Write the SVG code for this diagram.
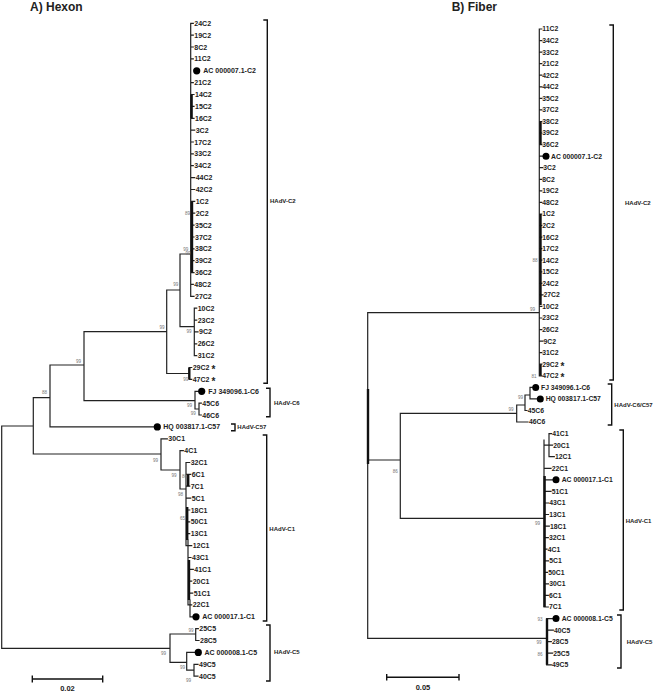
<svg xmlns="http://www.w3.org/2000/svg" width="658" height="693" viewBox="0 0 658 693">
<style>
.br{fill:none;stroke:#222;stroke-width:1.2;stroke-linecap:square}
.thk{fill:none;stroke:#111;stroke-width:2.4}
.bk{fill:none;stroke:#111;stroke-width:1.4}
.t{font-family:"Liberation Sans",Arial,sans-serif;font-weight:bold;font-size:7px;fill:#222}
.f{font-family:"Liberation Sans",Arial,sans-serif;font-weight:bold;font-size:6.8px;fill:#222}
.bs{font-family:"Liberation Sans",Arial,sans-serif;font-size:4.6px;fill:#777}
.cl{font-family:"Liberation Sans",Arial,sans-serif;font-weight:bold;font-size:6px;fill:#222}
.ti{font-family:"Liberation Sans",Arial,sans-serif;font-weight:bold;font-size:12px;fill:#222}
.sc{font-family:"Liberation Sans",Arial,sans-serif;font-weight:bold;font-size:7.5px;fill:#222}
.ast{font-size:10px}
</style>
<rect width="658" height="693" fill="#fff"/>
<text class="ti" x="30" y="11">A) Hexon</text>
<text class="ti" x="451.7" y="11">B) Fiber</text>

<g id="connectors">
<!-- Hexon tree -->
<path class="br" d="M1.7,426 V648.3 M1.7,426 H33.3 M33.3,397.7 V454 M33.3,397.7 H50 M33.3,454 H161
M50,365 V426.9 M50,365 H84 M50,426.9 H154
M84,331.7 V400.7 M84,331.7 H166.7 M84,400.7 H195
M166.7,290 V373.5 M166.7,290 H180 M166.7,373.5 H189.3
M180,254 V326.7 M180,254 H190.7 M180,326.7 H194.3
M190.7,23.3 V296.3
M190.7,23.3 H193.3 M190.7,35.2 H193.3 M190.7,47 H193.3 M190.7,58.9 H193.3 M190.7,82.6 H193.3 M190.7,94.5 H194 M190.7,106.4 H194 M190.7,118.3 H194 M190.7,130.1 H194.7 M190.7,142 H193.3 M190.7,153.9 H193.3 M190.7,165.7 H193.3 M190.7,177.6 H194.7 M190.7,189.5 H194.7 M190.7,201.4 H194.7 M190.7,213.2 H194.7 M190.7,225.1 H194 M190.7,237 H194 M190.7,248.8 H194 M190.7,260.7 H194 M190.7,272.6 H194 M190.7,284.4 H193.3 M190.7,296.3 H194
M194.3,308.2 V355.7 M194.3,308.2 H196.7 M194.3,320.1 H196.7 M194.3,331.9 H198 M194.3,343.8 H196.7 M194.3,355.7 H196.7
M189.3,367.5 H191.7 M189.3,379.4 H191.7
M195,391.3 V409 M195,391.3 H198 M195,409 H199 M199,403.1 V415 M199,403.1 H201.3 M199,415 H201.3
M1.7,648.3 H170
M161,438.8 V470 M161,438.8 H167.3 M161,470 H180 M180,450.6 V489 M180,450.6 H183.3 M180,489 H186
M186,462.5 V545.6 M188,540 V604.9 M186,545.6 H188 M190,600 V616.8
M186,462.5 H189.7 M186,474.4 H190.7 M186,486.2 H189.7 M186,498.1 H190.7 M186,510 H189.7 M186,521.8 H189.7 M186,533.7 H189.7 M188,545.6 H191.7 M188,557.5 H191 M188,569.3 H193.3 M188,581.2 H191.7 M188,593.1 H192.7 M188,604.9 H191.7 M190,616.8 H192.5
M170,634 V662.3 M170,634 H195.7 M195.7,628.7 V640.5 M195.7,628.7 H198.3 M195.7,640.5 H199
M170,662.3 H186.7 M186.7,652.4 V670.2 M186.7,652.4 H195 M186.7,670.2 H194 M194,664.3 V676.2 M194,664.3 H198 M194,676.2 H198"/>
<path class="thk" d="M189.3,367.5 V379.4 M192,201.4 V272.6 M191.6,94.5 V118.3 M188.2,474.4 V486.2 M187.2,507 V540 M189,560 V600"/>

<!-- Fiber tree -->
<path class="br" d="M367.7,312.7 V638.3 M367.7,312.7 H539.3 M367.7,638.3 H546.7 M367.7,460 H400.3
M400.3,413.3 V518.3 M400.3,413.3 H516.7 M400.3,518.3 H544
M539.3,29 V375.8
M539.3,29 H541.8 M539.3,40.6 H541.8 M539.3,52.1 H541.8 M539.3,63.7 H541.8 M539.3,75.2 H541.8 M539.3,86.8 H541.8 M539.3,98.4 H541.8 M539.3,109.9 H541.8 M539.3,121.5 H541.8 M539.3,133 H541.8 M539.3,144.6 H541.8 M539.3,156.2 H542.5 M539.3,167.7 H542.8 M539.3,179.3 H541.8 M539.3,190.8 H541.8 M539.3,202.4 H541.8 M539.3,214 H541.8 M539.3,225.5 H541.8 M539.3,237.1 H541.8 M539.3,248.6 H541.8 M539.3,260.2 H541.8 M539.3,271.8 H541.8 M539.3,283.3 H541.8 M539.3,294.9 H543 M539.3,306.4 H541.8 M539.3,318 H541.8 M539.3,329.6 H541.8 M539.3,341.1 H543 M539.3,352.7 H541.8 M539.3,364.2 H541.8 M539.3,375.8 H541.8
M516.7,405 V422 M516.7,422 H528 M516.7,405 H525 M525,395 V410.5 M525,410.5 H527 M525,395 H530 M530,387.4 V398.9 M530,387.4 H532.2 M530,398.9 H536.8
M544,440 V607 M544,445.2 H549 M549,433.6 V456.7 M549,433.6 H551.5 M549,445.2 H552.5 M549,456.7 H554.3
M544,468.3 H551 M544,479.8 H552.5 M544,491.4 H551 M544,503 H548.5 M544,514.5 H548.5 M544,526.1 H549.3 M544,537.6 H548.3 M544,549.2 H547 M544,560.8 H548.5 M544,572.3 H547.5 M544,583.9 H548.5 M544,595.4 H548.3 M544,607 H548.3
M546.7,618.6 V664.8 M546.7,618.6 H552.5 M546.7,630.1 H553.3 M546.7,641.7 H551.3 M546.7,653.2 H552.6 M546.7,664.8 H551.3"/>
<path class="thk" d="M368,389 V464 M540.5,121.5 V144.6 M540.5,214 V305 M540.5,364.2 V375.8 M544.6,476 V607 M547,618.6 V664.8"/>
</g>

<!-- Hexon bootstrap values -->
<g id="hexon-bootstrap" class="bs">
<text x="42" y="394">88</text>
<text x="76" y="363.3">99</text>
<text x="159.5" y="329.3">99</text>
<text x="173.3" y="286">99</text>
<text x="183.3" y="380.6">99</text>
<text x="183.3" y="251">99</text>
<text x="185.5" y="255">99</text>
<text x="185" y="214.6">89</text>
<text x="186.5" y="333.3">99</text>
<text x="187" y="406.6">99</text>
<text x="190.7" y="415">99</text>
<text x="153" y="461.6">99</text>
<text x="171.5" y="477.3">99</text>
<text x="182" y="477.6">86</text>
<text x="178" y="496">98</text>
<text x="180" y="520">65</text>
<text x="161" y="655">99</text>
<text x="188.5" y="632.3">99</text>
<text x="180" y="669.3">99</text>
<text x="186" y="682.3">99</text>
</g>

<!-- Fiber bootstrap values -->
<g id="fiber-bootstrap" class="bs">
<text x="530" y="310.6">99</text>
<text x="532.5" y="262.3">88</text>
<text x="531.5" y="377.6">81</text>
<text x="508.5" y="410.6">99</text>
<text x="518" y="399">99</text>
<text x="392.7" y="472.5">86</text>
<text x="535" y="525">99</text>
<text x="537.5" y="620.5">93</text>
<text x="536.5" y="644">99</text>
<text x="537.5" y="655.6">86</text>
</g>

<!-- Hexon leaves -->
<g id="hexon-leaves" class="t">
<g id="h-24C2"><text x="194.3" y="25.8">24C2</text></g>
<g id="h-19C2"><text x="194.3" y="37.7">19C2</text></g>
<g id="h-8C2"><text x="194.3" y="49.5">8C2</text></g>
<g id="h-11C2"><text x="194.3" y="61.4">11C2</text></g>
<g id="h-AC7"><circle cx="196.7" cy="70.8" r="3.6" fill="#000"/><text x="203.3" y="73.3">AC 000007.1-C2</text></g>
<g id="h-21C2"><text x="194.3" y="85.1">21C2</text></g>
<g id="h-14C2"><text x="195" y="97">14C2</text></g>
<g id="h-15C2"><text x="195" y="108.9">15C2</text></g>
<g id="h-16C2"><text x="195" y="120.8">16C2</text></g>
<g id="h-3C2"><text x="195.7" y="132.6">3C2</text></g>
<g id="h-17C2"><text x="194.3" y="144.5">17C2</text></g>
<g id="h-33C2"><text x="194.3" y="156.4">33C2</text></g>
<g id="h-34C2"><text x="194.3" y="168.2">34C2</text></g>
<g id="h-44C2"><text x="195.7" y="180.1">44C2</text></g>
<g id="h-42C2"><text x="195.7" y="192">42C2</text></g>
<g id="h-1C2"><text x="195.7" y="203.9">1C2</text></g>
<g id="h-2C2"><text x="195.7" y="215.7">2C2</text></g>
<g id="h-35C2"><text x="195" y="227.6">35C2</text></g>
<g id="h-37C2"><text x="195" y="239.5">37C2</text></g>
<g id="h-38C2"><text x="195" y="251.3">38C2</text></g>
<g id="h-39C2"><text x="195" y="263.2">39C2</text></g>
<g id="h-36C2"><text x="195" y="275.1">36C2</text></g>
<g id="h-48C2"><text x="194.3" y="286.9">48C2</text></g>
<g id="h-27C2"><text x="195" y="298.8">27C2</text></g>
<g id="h-10C2"><text x="197.7" y="310.7">10C2</text></g>
<g id="h-23C2"><text x="197.7" y="322.6">23C2</text></g>
<g id="h-9C2"><text x="199" y="334.4">9C2</text></g>
<g id="h-26C2"><text x="197.7" y="346.3">26C2</text></g>
<g id="h-31C2"><text x="197.7" y="358.2">31C2</text></g>
<g id="h-29C2"><text x="192.7" y="370">29C2 <tspan class="ast" dy="3.2">*</tspan></text></g>
<g id="h-47C2"><text x="192.7" y="381.9">47C2 <tspan class="ast" dy="3.2">*</tspan></text></g>
<g id="h-FJ"><circle cx="201.7" cy="391.3" r="3.6" fill="#000"/><text x="208.3" y="393.8">FJ 349096.1-C6</text></g>
<g id="h-45C6"><text x="202.3" y="405.6">45C6</text></g>
<g id="h-46C6"><text x="202.3" y="417.5">46C6</text></g>
<g id="h-HQ"><circle cx="157.3" cy="426.9" r="3.6" fill="#000"/><text x="163.3" y="429.4">HQ 003817.1-C57</text></g>
<g id="h-30C1"><text x="168.3" y="441.3">30C1</text></g>
<g id="h-4C1"><text x="184.3" y="453.1">4C1</text></g>
<g id="h-32C1"><text x="190.7" y="465">32C1</text></g>
<g id="h-6C1"><text x="191.7" y="476.9">6C1</text></g>
<g id="h-7C1"><text x="190.7" y="488.7">7C1</text></g>
<g id="h-5C1"><text x="191.7" y="500.6">5C1</text></g>
<g id="h-18C1"><text x="190.7" y="512.5">18C1</text></g>
<g id="h-50C1"><text x="190.7" y="524.3">50C1</text></g>
<g id="h-13C1"><text x="190.7" y="536.2">13C1</text></g>
<g id="h-12C1"><text x="192.7" y="548.1">12C1</text></g>
<g id="h-43C1"><text x="192" y="560">43C1</text></g>
<g id="h-41C1"><text x="194.3" y="571.8">41C1</text></g>
<g id="h-20C1"><text x="192.7" y="583.7">20C1</text></g>
<g id="h-51C1"><text x="193.7" y="595.6">51C1</text></g>
<g id="h-22C1"><text x="192.7" y="607.4">22C1</text></g>
<g id="h-AC17"><circle cx="196" cy="616.8" r="3.6" fill="#000"/><text x="202.3" y="619.3">AC 000017.1-C1</text></g>
<g id="h-25C5"><text x="199.3" y="631.2">25C5</text></g>
<g id="h-28C5"><text x="200" y="643">28C5</text></g>
<g id="h-AC8"><circle cx="198.3" cy="652.4" r="3.6" fill="#000"/><text x="204.5" y="654.9">AC 000008.1-C5</text></g>
<g id="h-49C5"><text x="199" y="666.8">49C5</text></g>
<g id="h-40C5"><text x="199" y="678.7">40C5</text></g>
</g>

<!-- Hexon clade brackets -->
<g id="hexon-clades">
<path class="bk" d="M263.3,20 H267.3 V383.3 H263.3"/><text class="cl" x="270" y="203.3">HAdV-C2</text>
<path class="bk" d="M266,388.3 H270 V416.7 H266"/><text class="cl" x="274" y="405.3">HAdV-C6</text>
<path class="bk" d="M231,424 H235 V430.7 H231"/><text class="cl" x="237.3" y="429">HAdV-C57</text>
<path class="bk" d="M262.7,435 H266.7 V621 H262.7"/><text class="cl" x="269.3" y="530.5">HAdV-C1</text>
<path class="bk" d="M266,625 H270 V681 H266"/><text class="cl" x="274" y="654">HAdV-C5</text>
</g>

<!-- Fiber leaves -->
<g id="fiber-leaves" class="f">
<g id="f-11C2"><text x="542.3" y="31.4">11C2</text></g>
<g id="f-34C2"><text x="542.3" y="43">34C2</text></g>
<g id="f-33C2"><text x="542.3" y="54.5">33C2</text></g>
<g id="f-21C2"><text x="542.3" y="66.1">21C2</text></g>
<g id="f-42C2"><text x="542.3" y="77.6">42C2</text></g>
<g id="f-44C2"><text x="542.3" y="89.2">44C2</text></g>
<g id="f-35C2"><text x="542.3" y="100.8">35C2</text></g>
<g id="f-37C2"><text x="542.3" y="112.3">37C2</text></g>
<g id="f-38C2"><text x="542.3" y="123.9">38C2</text></g>
<g id="f-39C2"><text x="542.3" y="135.4">39C2</text></g>
<g id="f-36C2"><text x="542.3" y="147">36C2</text></g>
<g id="f-AC7"><circle cx="546" cy="156.2" r="3.5" fill="#000"/><text x="551" y="158.6">AC 000007.1-C2</text></g>
<g id="f-3C2"><text x="543.3" y="170.1">3C2</text></g>
<g id="f-8C2"><text x="542.3" y="181.7">8C2</text></g>
<g id="f-19C2"><text x="542.3" y="193.2">19C2</text></g>
<g id="f-48C2"><text x="542.3" y="204.8">48C2</text></g>
<g id="f-1C2"><text x="542.3" y="216.4">1C2</text></g>
<g id="f-2C2"><text x="542.3" y="227.9">2C2</text></g>
<g id="f-16C2"><text x="542.3" y="239.5">16C2</text></g>
<g id="f-17C2"><text x="542.3" y="251">17C2</text></g>
<g id="f-14C2"><text x="542.3" y="262.6">14C2</text></g>
<g id="f-15C2"><text x="542.3" y="274.2">15C2</text></g>
<g id="f-24C2"><text x="542.3" y="285.7">24C2</text></g>
<g id="f-27C2"><text x="543.5" y="297.3">27C2</text></g>
<g id="f-10C2"><text x="542.3" y="308.8">10C2</text></g>
<g id="f-23C2"><text x="542.3" y="320.4">23C2</text></g>
<g id="f-26C2"><text x="542.3" y="332">26C2</text></g>
<g id="f-9C2"><text x="543.5" y="343.5">9C2</text></g>
<g id="f-31C2"><text x="542.3" y="355.1">31C2</text></g>
<g id="f-29C2"><text x="542.3" y="366.6">29C2 <tspan class="ast" dy="3.2">*</tspan></text></g>
<g id="f-47C2"><text x="542.3" y="378.2">47C2 <tspan class="ast" dy="3.2">*</tspan></text></g>
<g id="f-FJ"><circle cx="535.7" cy="387.4" r="3.5" fill="#000"/><text x="541" y="389.8">FJ 349096.1-C6</text></g>
<g id="f-HQ"><circle cx="540.3" cy="398.9" r="3.5" fill="#000"/><text x="545.7" y="401.3">HQ 003817.1-C57</text></g>
<g id="f-45C6"><text x="527.7" y="412.9">45C6</text></g>
<g id="f-46C6"><text x="529" y="424.4">46C6</text></g>
<g id="f-41C1"><text x="552.3" y="436">41C1</text></g>
<g id="f-20C1"><text x="553.3" y="447.6">20C1</text></g>
<g id="f-12C1"><text x="555" y="459.1">12C1</text></g>
<g id="f-22C1"><text x="551.7" y="470.7">22C1</text></g>
<g id="f-AC17"><circle cx="556" cy="479.8" r="3.5" fill="#000"/><text x="561.7" y="482.2">AC 000017.1-C1</text></g>
<g id="f-51C1"><text x="551.7" y="493.8">51C1</text></g>
<g id="f-43C1"><text x="549.3" y="505.4">43C1</text></g>
<g id="f-13C1"><text x="549.3" y="516.9">13C1</text></g>
<g id="f-18C1"><text x="550" y="528.5">18C1</text></g>
<g id="f-32C1"><text x="549" y="540">32C1</text></g>
<g id="f-4C1"><text x="547.7" y="551.6">4C1</text></g>
<g id="f-5C1"><text x="549.3" y="563.2">5C1</text></g>
<g id="f-50C1"><text x="548.3" y="574.7">50C1</text></g>
<g id="f-30C1"><text x="549.3" y="586.3">30C1</text></g>
<g id="f-6C1"><text x="549" y="597.8">6C1</text></g>
<g id="f-7C1"><text x="549" y="609.4">7C1</text></g>
<g id="f-AC8"><circle cx="556" cy="618.6" r="3.5" fill="#000"/><text x="561.7" y="621">AC 000008.1-C5</text></g>
<g id="f-40C5"><text x="554" y="632.5">40C5</text></g>
<g id="f-28C5"><text x="552" y="644.1">28C5</text></g>
<g id="f-25C5"><text x="553.3" y="655.6">25C5</text></g>
<g id="f-49C5"><text x="552" y="667.2">49C5</text></g>
</g>

<!-- Fiber clade brackets -->
<g id="fiber-clades">
<path class="bk" d="M609.3,25 H613.3 V380 H609.3"/><text class="cl" x="625" y="204.7">HAdV-C2</text>
<path class="bk" d="M607.7,384 H611.7 V425 H607.7"/><text class="cl" x="614.3" y="407">HAdV-C6/C57</text>
<path class="bk" d="M619.3,430 H623.3 V610 H619.3"/><text class="cl" x="625.7" y="522.5">HAdV-C1</text>
<path class="bk" d="M617,615 H621 V668 H617"/><text class="cl" x="626.7" y="644">HAdV-C5</text>
</g>

<!-- Scale bars -->
<g id="scale-hexon">
<path class="bk" stroke-width="1.8" d="M32.3,679 H102.7 M32.3,675.5 V682.5 M102.7,675.5 V682.5"/>
<text class="sc" x="67.5" y="691" text-anchor="middle">0.02</text>
</g>
<g id="scale-fiber">
<path class="bk" stroke-width="1.8" d="M386.7,677.3 H459 M386.7,674 V680.6 M459,674 V680.6"/>
<text class="sc" x="423" y="690" text-anchor="middle">0.05</text>
</g>
</svg>
